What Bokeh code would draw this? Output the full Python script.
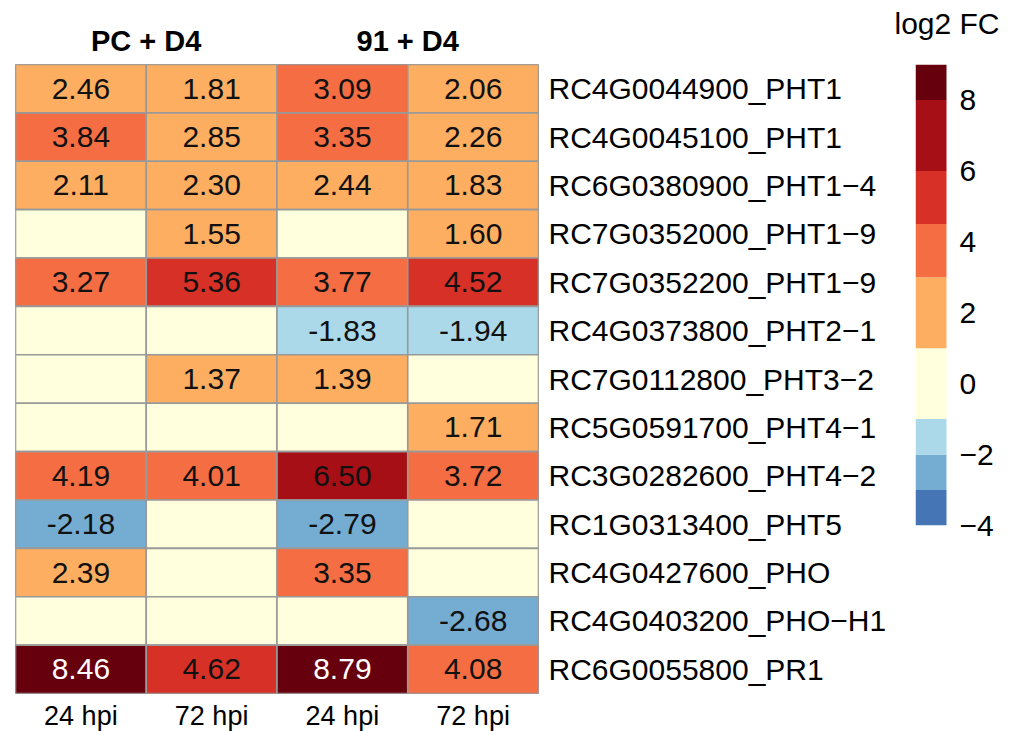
from bokeh.plotting import figure
from bokeh.models import FactorRange, Range1d, CategoricalAxis, ColumnDataSource, FixedTicker, CategoricalScale
from bokeh.layouts import row
from bokeh.core.properties import value
from bokeh.embed import file_html
from bokeh.resources import INLINE

M = "\u2212"
genes = [
    "RC4G0044900_PHT1", "RC4G0045100_PHT1", "RC6G0380900_PHT1" + M + "4",
    "RC7G0352000_PHT1" + M + "9", "RC7G0352200_PHT1" + M + "9", "RC4G0373800_PHT2" + M + "1",
    "RC7G0112800_PHT3" + M + "2", "RC5G0591700_PHT4" + M + "1", "RC3G0282600_PHT4" + M + "2",
    "RC1G0313400_PHT5", "RC4G0427600_PHO", "RC4G0403200_PHO" + M + "H1", "RC6G0055800_PR1",
]
groups = ["PC + D4", "91 + D4"]
times = ["24 hpi", "72 hpi"]
pc_24 = [2.46, 3.84, 2.11, 0, 3.27, 0, 0, 0, 4.19, -2.18, 2.39, 0, 8.46]
pc_72 = [1.81, 2.85, 2.30, 1.55, 5.36, 0, 1.37, 0, 4.01, 0, 0, 0, 4.62]
d91_24 = [3.09, 3.35, 2.44, 0, 3.77, -1.83, 1.39, 0, 6.50, -2.79, 3.35, 0, 8.79]
d91_72 = [2.06, 2.26, 1.83, 1.60, 4.52, -1.94, 0, 1.71, 3.72, 0, 0, -2.68, 4.08]

breaks = [-4, -3, -2, -1, 1, 3, 4.5, 6, 8, 9]
bin_colors = ["#4575B4", "#74ADD1", "#ABD9E9", "#FFFFDD", "#FDAE61",
              "#F46D43", "#D73027", "#A50F15", "#67000D"]
legend_ticks = [-4, -2, 0, 2, 4, 6, 8]
legend_title = "log2 FC"

FONT = value("Liberation Sans")


def color_of(v):
    for i in range(len(bin_colors)):
        if breaks[i] <= v < breaks[i + 1]:
            return bin_colors[i]
    return bin_colors[-1] if v >= breaks[-1] else bin_colors[0]


columns = [(groups[0], times[0]), (groups[0], times[1]), (groups[1], times[0]), (groups[1], times[1])]
series = [pc_24, pc_72, d91_24, d91_72]

xs, ys, vals, fills, labels, tcolors = [], [], [], [], [], []
for col, vals_c in zip(columns, series):
    for g, v in zip(genes, vals_c):
        xs.append(col)
        ys.append(g)
        vals.append(v)
        fills.append(color_of(v))
        labels.append("" if v == 0 else f"{v:.2f}")
        tcolors.append("white" if v >= 8 else "#111111")

src = ColumnDataSource(dict(x=xs, y=ys, v=vals, fill=fills, lab=labels, tc=tcolors))

x_range = FactorRange(factors=columns, group_padding=0, factor_padding=0, range_padding=0)
y_range = FactorRange(factors=genes[::-1], factor_padding=0, range_padding=0)

p = figure(x_range=x_range, y_range=y_range, frame_width=523, frame_height=629,
           min_border_left=15, min_border_top=64, min_border_right=350, min_border_bottom=30,
           x_axis_location="below", y_axis_location="right",
           output_backend="svg", toolbar_location=None, tools="")
p.extra_x_ranges = {"grp": FactorRange(factors=groups, factor_padding=0, range_padding=0)}
p.extra_x_scales = {"grp": CategoricalScale()}
p.grid.visible = False
p.outline_line_color = "#999999"
p.outline_line_width = 1
p.background_fill_color = "white"
p.border_fill_color = "white"

p.rect(x="x", y="y", width=1, height=1, source=src, fill_color="fill",
       line_color="#999999", line_width=1.6)
p.text(x="x", y="y", text="lab", source=src, text_color="tc", text_font=FONT,
       text_font_size="30px", text_align="center", text_baseline="middle")

xa = p.xaxis[0]
xa.axis_line_color = None
xa.major_tick_line_color = None
xa.major_tick_out = 0
xa.major_label_standoff = 7
xa.major_label_text_font = "Liberation Sans"
xa.major_label_text_font_size = "27px"
xa.major_label_text_color = "black"
xa.group_text_font_size = "1px"
xa.group_text_alpha = 0
xa.separator_line_alpha = 0

ya = p.yaxis[0]
ya.axis_line_color = None
ya.major_tick_line_color = None
ya.major_tick_out = 0
ya.major_label_standoff = 10
ya.major_label_text_font = "Liberation Sans"
ya.major_label_text_font_size = "30px"
ya.major_label_text_color = "black"

top_axis = CategoricalAxis(x_range_name="grp")
top_axis.axis_line_color = None
top_axis.major_tick_line_color = None
top_axis.major_tick_out = 0
top_axis.major_label_standoff = 8
top_axis.major_label_text_font = "Liberation Sans"
top_axis.major_label_text_font_size = "29px"
top_axis.major_label_text_font_style = "bold"
top_axis.major_label_text_color = "black"
p.add_layout(top_axis, "above")

# legend: 63px wide frame on one factor (the title); the colour bar fills its left 31px
lg = figure(x_range=FactorRange(factors=[legend_title], range_padding=0, factor_padding=0),
            y_range=Range1d(breaks[0], breaks[-1]),
            frame_width=63, frame_height=461,
            min_border_left=26, min_border_right=25, min_border_top=64, min_border_bottom=205,
            x_axis_location="above", y_axis_location="right",
            output_backend="svg", toolbar_location=None, tools="")
lg.grid.visible = False
lg.outline_line_color = None
lg.background_fill_color = "white"
lg.border_fill_color = "white"
bar_src = ColumnDataSource(dict(
    left=[(legend_title, -0.5)] * len(bin_colors),
    right=[(legend_title, -0.5 + 31 / 63)] * len(bin_colors),
    bottom=breaks[:-1], top=breaks[1:], color=bin_colors))
lg.quad(left="left", right="right", bottom="bottom", top="top", fill_color="color",
        line_color=None, source=bar_src)

la = lg.yaxis[0]
la.ticker = FixedTicker(ticks=legend_ticks)
la.major_label_overrides = {t: (M + str(-t) if t < 0 else str(t)) for t in legend_ticks}
la.axis_line_color = None
la.major_tick_line_color = None
la.minor_tick_line_color = None
la.major_tick_out = 0
la.major_label_standoff = -19
la.major_label_text_font = "Liberation Sans"
la.major_label_text_font_size = "30px"
la.major_label_text_color = "black"

ta = lg.xaxis[0]
ta.axis_line_color = None
ta.major_tick_line_color = None
ta.major_tick_out = 0
ta.major_label_standoff = 25
ta.major_label_text_font = "Liberation Sans"
ta.major_label_text_font_size = "30px"
ta.major_label_text_color = "black"

layout = row(p, lg)
open("out.html", "w").write(file_html(layout, INLINE))
